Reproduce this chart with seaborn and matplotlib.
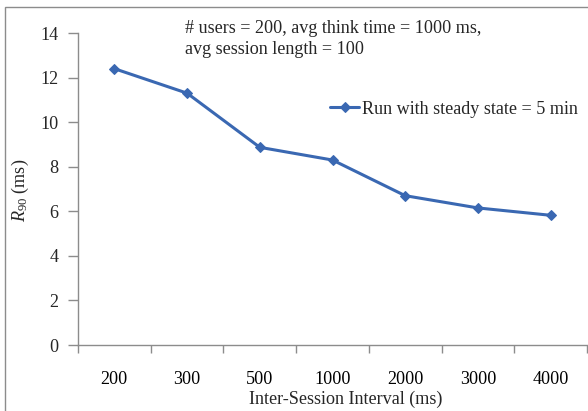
import pandas as pd
import matplotlib.pyplot as plt
import seaborn as sns
from matplotlib.patches import Rectangle

intervals = ['200', '300', '500', '1000', '2000', '3000', '4000']
r90 = [12.40, 11.30, 8.87, 8.30, 6.70, 6.15, 5.82]
series_name = 'Run with steady state = 5 min'
note = '# users = 200, avg think time = 1000 ms,\navg session length = 100'

sns.set_style('white')
plt.rcParams['font.family'] = ['Liberation Serif', 'DejaVu Serif']
plt.rcParams['mathtext.fontset'] = 'custom'
plt.rcParams['mathtext.rm'] = 'Liberation Serif'
plt.rcParams['mathtext.it'] = 'Liberation Serif:italic'

fs = 13.1
df = pd.DataFrame({'interval': intervals, 'r90': r90, 'run': series_name})

fig = plt.figure(figsize=(5.88, 4.11), dpi=100)
ax = fig.add_axes([78 / 588, 1 - 345 / 411, 509 / 588, 312 / 411])

blue = '#3A68B2'
sns.lineplot(data=df, x='interval', y='r90', hue='run', palette=[blue],
             marker='D', markersize=5, markeredgecolor=blue, linewidth=2.2,
             sort=False, ax=ax)

ax.set_xlim(-0.5, len(intervals) - 0.5)
ax.set_ylim(0, 14)
ax.set_yticks(range(0, 15, 2))
ax.set_xticks(range(len(intervals)))
ax.set_xticklabels(intervals)
ax.set_xticks([i - 0.5 for i in range(len(intervals) + 1)], minor=True)
ax.tick_params(axis='x', which='major', length=0, pad=19, labelsize=fs, colors='black')
ax.tick_params(axis='x', which='minor', length=6, width=1, color='#8c8c8c', direction='out', bottom=True)
ax.tick_params(axis='y', length=7, width=1, color='#8c8c8c', direction='out', left=True, labelsize=fs, pad=7)

for s in ['top', 'right']:
    ax.spines[s].set_visible(False)
for s in ['left', 'bottom']:
    ax.spines[s].set_color('#8c8c8c')
    ax.spines[s].set_linewidth(1)

ax.set_xlabel('Inter-Session Interval (ms)', fontsize=fs)
ax.xaxis.set_label_coords((346 - 78) / 509, -(399 - 345) / 312)
ax.xaxis.label.set_va('center')
ax.set_ylabel(r'$\mathit{R}_{90}$ (ms)', fontsize=fs)
ax.yaxis.set_label_coords(-(78 - 20) / 509, (345 - 190) / 312)
ax.yaxis.label.set_va('center')

ax.legend(loc='center left', bbox_to_anchor=(330 / 588, 1 - 109 / 411),
          bbox_transform=fig.transFigure, frameon=False, fontsize=fs,
          handlelength=1.6, handletextpad=0.15, borderpad=0, borderaxespad=0)

fig.text(185 / 588, 1 - 39 / 411, note, fontsize=fs, va='center', ha='left', linespacing=1.3)

fig.patches.append(Rectangle((5 / 588, -0.1), 1.2, 1.1 - 7 / 411, transform=fig.transFigure,
                             fill=False, edgecolor='#8c8c8c', linewidth=1))

fig.savefig('out.png', dpi=100)
